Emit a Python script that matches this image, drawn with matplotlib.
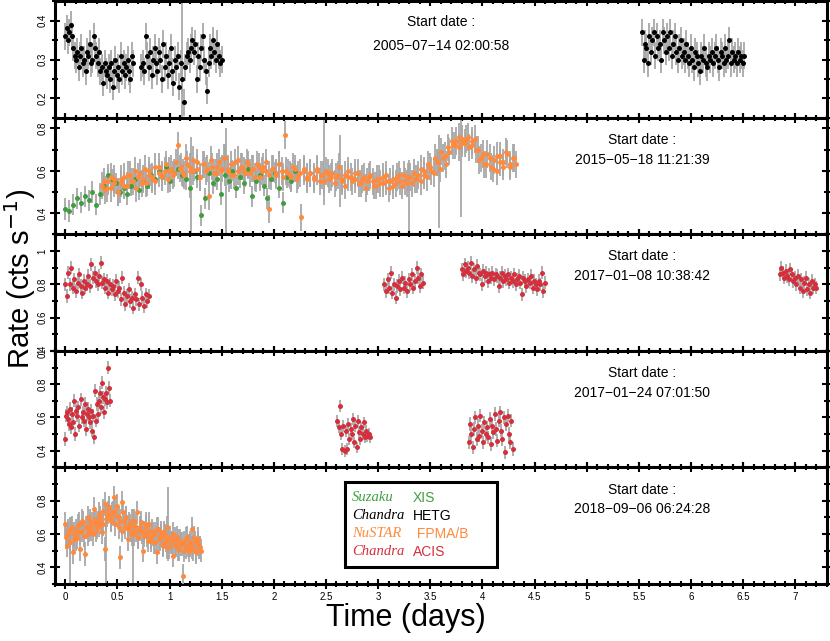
import numpy as np
import matplotlib.pyplot as plt
from matplotlib.patches import Rectangle
from matplotlib.ticker import MultipleLocator

plt.rcParams['font.family'] = ['Liberation Sans', 'DejaVu Sans']

# colores
verde = '#3f9f3f'
naranja = '#ff8a3d'
rojo = '#d42f3c'
negro = 'black'
gris = '#a8a8a8'

# --- Panel 1 : Chandra HETG (2005) ---
hetg_a_x = (0.0, 0.65)
hetg_a = [0.36, 0.38, 0.35, 0.37, 0.39, 0.36, 0.33, 0.31, 0.30, 0.32, 0.28, 0.31, 0.33, 0.29,
          0.30, 0.27, 0.32, 0.31, 0.34, 0.29, 0.30, 0.36, 0.33, 0.31, 0.29, 0.32, 0.27, 0.28,
          0.24, 0.29, 0.27, 0.26, 0.28, 0.25, 0.29, 0.23, 0.27, 0.30, 0.26, 0.28, 0.25, 0.31,
          0.27, 0.29, 0.26, 0.28, 0.30, 0.27, 0.25, 0.31, 0.29]
hetg_b_x = (0.73, 1.50)
hetg_b = [0.28, 0.29, 0.27, 0.36, 0.31, 0.28, 0.32, 0.26, 0.30, 0.33, 0.29, 0.27, 0.32, 0.30,
          0.25, 0.34, 0.28, 0.31, 0.26, 0.29, 0.33, 0.27, 0.24, 0.30, 0.28, 0.31, 0.23, 0.29,
          0.25, 0.19, 0.28, 0.31, 0.32, 0.30, 0.33, 0.35, 0.32, 0.34, 0.25, 0.31, 0.28, 0.33,
          0.36, 0.30, 0.27, 0.22, 0.29, 0.33, 0.31, 0.35, 0.32, 0.30, 0.34, 0.31, 0.29, 0.30]
hetg_c_x = (5.53, 6.51)
hetg_c = [0.37, 0.30, 0.34, 0.33, 0.29, 0.36, 0.32, 0.35, 0.37, 0.31, 0.36, 0.33, 0.34, 0.30,
          0.37, 0.35, 0.32, 0.36, 0.33, 0.37, 0.31, 0.34, 0.36, 0.32, 0.30, 0.33, 0.35, 0.31,
          0.32, 0.30, 0.34, 0.31, 0.29, 0.33, 0.30, 0.28, 0.32, 0.31, 0.29, 0.27, 0.31, 0.30,
          0.33, 0.29, 0.28, 0.31, 0.30, 0.32, 0.29, 0.31, 0.33, 0.30, 0.28, 0.32, 0.31, 0.29,
          0.33, 0.30, 0.31, 0.35, 0.29, 0.32, 0.30, 0.31, 0.29, 0.32, 0.30, 0.31, 0.29, 0.31]
# bins con error grande (tiempo, tasa, error)
hetg_largo_t = [1.12]
hetg_largo_r = [0.19]
hetg_largo_e = [0.27]

# --- Panel 2 : Suzaku XIS + NuSTAR FPMA/FPMB (2015) ---
xis_x = (0.0, 2.2)
xis = [0.42, 0.41, 0.44, 0.47, 0.45, 0.48, 0.46, 0.50, 0.44, 0.49, 0.53, 0.58, 0.56, 0.54,
       0.50, 0.52, 0.49, 0.53, 0.56, 0.51, 0.55, 0.53, 0.58, 0.56, 0.60, 0.57, 0.62, 0.55,
       0.59, 0.61, 0.58, 0.56, 0.52, 0.60, 0.57, 0.39, 0.47, 0.59, 0.54, 0.56, 0.49, 0.58,
       0.55, 0.60, 0.52, 0.57, 0.54, 0.61, 0.48, 0.55, 0.58, 0.53, 0.47, 0.56, 0.59, 0.52,
       0.45, 0.57, 0.55, 0.60]
fpma15_x = (0.35, 4.32)
fpma15 = [0.53, 0.51, 0.55, 0.52, 0.56, 0.50, 0.54, 0.57, 0.53, 0.58, 0.55, 0.52, 0.59, 0.56,
          0.54, 0.60, 0.57, 0.55, 0.62, 0.58, 0.60, 0.56, 0.61, 0.59, 0.72, 0.62, 0.58, 0.63,
          0.60, 0.65, 0.61, 0.57, 0.63, 0.60, 0.48, 0.62, 0.59, 0.64, 0.61, 0.66, 0.60, 0.63,
          0.58, 0.65, 0.62, 0.60, 0.64, 0.59, 0.61, 0.63, 0.57, 0.62, 0.60, 0.42, 0.61, 0.58,
          0.63, 0.60, 0.77, 0.59, 0.57, 0.61, 0.58, 0.38, 0.60, 0.56, 0.59, 0.57, 0.61, 0.55,
          0.58, 0.60, 0.56, 0.59, 0.57, 0.62, 0.55, 0.58, 0.60, 0.57, 0.56, 0.59, 0.54, 0.57,
          0.55, 0.58, 0.53, 0.56, 0.54, 0.57, 0.55, 0.52, 0.56, 0.54, 0.58, 0.53, 0.55, 0.57,
          0.54, 0.56, 0.58, 0.55, 0.60, 0.57, 0.62, 0.59, 0.64, 0.61, 0.66, 0.63, 0.69, 0.72,
          0.74, 0.71, 0.75, 0.73, 0.76, 0.72, 0.75, 0.70, 0.66, 0.63, 0.68, 0.62, 0.65, 0.60,
          0.67, 0.64, 0.69, 0.62, 0.66, 0.63]
fpmb15_x = (0.37, 4.30)
fpmb15 = [0.55, 0.52, 0.57, 0.54, 0.50, 0.56, 0.53, 0.58, 0.55, 0.60, 0.57, 0.54, 0.61, 0.58,
          0.56, 0.62, 0.59, 0.57, 0.63, 0.60, 0.58, 0.64, 0.61, 0.59, 0.66, 0.62, 0.60, 0.64,
          0.57, 0.63, 0.61, 0.65, 0.59, 0.62, 0.60, 0.66, 0.61, 0.58, 0.64, 0.60, 0.62, 0.59,
          0.63, 0.61, 0.57, 0.62, 0.60, 0.64, 0.58, 0.61, 0.59, 0.63, 0.57, 0.60, 0.58, 0.62,
          0.56, 0.59, 0.61, 0.57, 0.59, 0.56, 0.60, 0.58, 0.55, 0.59, 0.57, 0.54, 0.58, 0.56,
          0.53, 0.57, 0.55, 0.59, 0.54, 0.56, 0.52, 0.57, 0.55, 0.53, 0.56, 0.54, 0.58, 0.55,
          0.53, 0.57, 0.55, 0.58, 0.54, 0.57, 0.59, 0.56, 0.61, 0.58, 0.63, 0.60, 0.66, 0.64,
          0.69, 0.67, 0.71, 0.74, 0.72, 0.76, 0.73, 0.75, 0.71, 0.74, 0.70, 0.65, 0.68, 0.63,
          0.66, 0.61, 0.67, 0.64, 0.62, 0.68, 0.63, 0.66]
nus15_largo_t = [1.21, 1.54, 2.48, 2.63, 3.30, 3.58, 3.79]
nus15_largo_r = [0.52, 0.55, 0.64, 0.60, 0.48, 0.55, 0.62]
nus15_largo_e = [0.24, 0.25, 0.20, 0.17, 0.17, 0.22, 0.24]

# --- Panel 3 : Chandra ACIS (2017-01-08) ---
acis1_a_x = (0.0, 0.8)
acis1_a = [0.80, 0.73, 0.87, 0.80, 0.90, 0.78, 0.83, 0.76, 0.81, 0.86, 0.79, 0.75, 0.82, 0.78,
           0.80, 0.85, 0.79, 0.92, 0.84, 0.87, 0.82, 0.80, 0.85, 0.93, 0.81, 0.83, 0.78, 0.82,
           0.75, 0.80, 0.77, 0.79, 0.74, 0.82, 0.76, 0.78, 0.71, 0.84, 0.75, 0.68, 0.73, 0.77,
           0.70, 0.72, 0.66, 0.74, 0.71, 0.84, 0.68, 0.80, 0.72, 0.67, 0.74, 0.70, 0.73]
acis1_b_x = (3.06, 3.43)
acis1_b = [0.80, 0.76, 0.83, 0.78, 0.87, 0.75, 0.80, 0.72, 0.79, 0.82, 0.77, 0.84, 0.78, 0.81,
           0.76, 0.83, 0.80, 0.86, 0.78, 0.82, 0.90, 0.84, 0.79, 0.86, 0.81]
acis1_c_x = (3.80, 4.60)
acis1_c = [0.89, 0.86, 0.92, 0.88, 0.90, 0.87, 0.93, 0.85, 0.89, 0.84, 0.91, 0.87, 0.86, 0.80,
           0.88, 0.85, 0.87, 0.82, 0.86, 0.84, 0.87, 0.83, 0.86, 0.85, 0.79, 0.84, 0.87, 0.82,
           0.85, 0.83, 0.86, 0.81, 0.84, 0.82, 0.86, 0.80, 0.83, 0.85, 0.81, 0.74, 0.84, 0.82,
           0.79, 0.83, 0.81, 0.85, 0.78, 0.82, 0.80, 0.77, 0.82, 0.80, 0.87, 0.76, 0.81]
acis1_d_x = (6.85, 7.20)
acis1_d = [0.86, 0.90, 0.87, 0.84, 0.88, 0.85, 0.83, 0.89, 0.86, 0.82, 0.84, 0.80, 0.85, 0.78,
           0.83, 0.76, 0.81, 0.84, 0.77, 0.80, 0.75, 0.82, 0.78, 0.80, 0.78]

# --- Panel 4 : Chandra ACIS (2017-01-24) ---
acis2_a_x = (0.0, 0.43)
acis2_a = [0.47, 0.61, 0.63, 0.59, 0.56, 0.65, 0.54, 0.62, 0.57, 0.70, 0.50, 0.64, 0.61, 0.66,
           0.55, 0.71, 0.60, 0.63, 0.58, 0.68, 0.53, 0.62, 0.65, 0.60, 0.57, 0.64, 0.52, 0.61,
           0.48, 0.76, 0.58, 0.68, 0.62, 0.70, 0.75, 0.66, 0.81, 0.72, 0.63, 0.71, 0.75, 0.69,
           0.90, 0.78, 0.70]
acis2_b_x = (2.61, 2.92)
acis2_b = [0.58, 0.54, 0.67, 0.50, 0.41, 0.55, 0.40, 0.52, 0.41, 0.56, 0.47, 0.53, 0.50, 0.59,
           0.45, 0.55, 0.42, 0.58, 0.51, 0.47, 0.54, 0.50, 0.57, 0.48, 0.52, 0.49, 0.50, 0.48]
acis2_c_x = (3.87, 4.29)
acis2_c = [0.45, 0.56, 0.50, 0.42, 0.53, 0.60, 0.47, 0.55, 0.49, 0.61, 0.52, 0.45, 0.57, 0.50,
           0.54, 0.48, 0.59, 0.44, 0.55, 0.51, 0.62, 0.53, 0.46, 0.58, 0.63, 0.52, 0.47, 0.60,
           0.39, 0.56, 0.61, 0.50, 0.45, 0.58, 0.41]

# --- Panel 5 : NuSTAR FPMA/FPMB (2018) ---
fpma18_x = (0.0, 1.30)
fpma18 = [0.66, 0.53, 0.60, 0.55, 0.63, 0.49, 0.57, 0.62, 0.58, 0.66, 0.51, 0.62, 0.67, 0.48,
          0.64, 0.60, 0.68, 0.63, 0.66, 0.75, 0.62, 0.67, 0.65, 0.70, 0.61, 0.66, 0.51, 0.69,
          0.73, 0.76, 0.68, 0.72, 0.82, 0.74, 0.77, 0.70, 0.46, 0.79, 0.73, 0.64, 0.70, 0.57,
          0.66, 0.62, 0.68, 0.60, 0.65, 0.73, 0.58, 0.63, 0.67, 0.50, 0.61, 0.64, 0.59, 0.66,
          0.56, 0.62, 0.55, 0.60, 0.49, 0.63, 0.57, 0.59, 0.53, 0.61, 0.56, 0.64, 0.52, 0.58,
          0.55, 0.47, 0.57, 0.53, 0.56, 0.51, 0.54, 0.35, 0.55, 0.52, 0.58, 0.50, 0.53, 0.63,
          0.51, 0.55, 0.49, 0.57, 0.52, 0.50]
fpmb18_x = (0.01, 1.29)
fpmb18 = [0.58, 0.62, 0.55, 0.64, 0.60, 0.57, 0.65, 0.61, 0.68, 0.59, 0.64, 0.70, 0.62, 0.66,
          0.60, 0.69, 0.64, 0.72, 0.67, 0.74, 0.78, 0.71, 0.76, 0.69, 0.73, 0.66, 0.71, 0.64,
          0.68, 0.62, 0.67, 0.70, 0.63, 0.65, 0.60, 0.68, 0.62, 0.58, 0.64, 0.61, 0.59, 0.66,
          0.56, 0.62, 0.58, 0.60, 0.55, 0.63, 0.57, 0.61, 0.54, 0.59, 0.52, 0.57, 0.55, 0.60,
          0.53, 0.58, 0.51, 0.56, 0.54, 0.50, 0.57, 0.53, 0.55, 0.52, 0.58, 0.50, 0.54, 0.52]
nus18_largo_t = [0.05, 0.39, 0.65, 0.99]
nus18_largo_r = [0.50, 0.50, 0.50, 0.66]
nus18_largo_e = [0.20, 0.20, 0.25, 0.22]

fechas = ['2005\u221207\u221214 02:00:58', '2015\u221205\u221218 11:21:39',
          '2017\u221201\u221208 10:38:42', '2017\u221201\u221224 07:01:50',
          '2018\u221209\u221206 06:24:28']
limites_y = [(0.15, 0.45), (0.3, 0.85), (0.4, 1.1), (0.3, 1.0), (0.3, 1.0)]
ticks_y = [[0.2, 0.3, 0.4], [0.4, 0.6, 0.8], [0.4, 0.6, 0.8, 1.0], [0.4, 0.6, 0.8, 1.0],
           [0.4, 0.6, 0.8]]
minor_y = [0.05, 0.1, 0.1, 0.1, 0.1]

# (panel, rango, valores, error, color)
segmentos = [
    (0, hetg_a_x, hetg_a, 0.035, negro),
    (0, hetg_b_x, hetg_b, 0.035, negro),
    (0, hetg_c_x, hetg_c, 0.035, negro),
    (1, xis_x, xis, 0.05, verde),
    (1, fpma15_x, fpma15, 0.065, naranja),
    (1, fpmb15_x, fpmb15, 0.065, naranja),
    (2, acis1_a_x, acis1_a, 0.04, rojo),
    (2, acis1_b_x, acis1_b, 0.04, rojo),
    (2, acis1_c_x, acis1_c, 0.04, rojo),
    (2, acis1_d_x, acis1_d, 0.04, rojo),
    (3, acis2_a_x, acis2_a, 0.04, rojo),
    (3, acis2_b_x, acis2_b, 0.035, rojo),
    (3, acis2_c_x, acis2_c, 0.04, rojo),
    (4, fpma18_x, fpma18, 0.07, naranja),
    (4, fpmb18_x, fpmb18, 0.07, naranja),
]
largos = [
    (0, hetg_largo_t, hetg_largo_r, hetg_largo_e),
    (1, nus15_largo_t, nus15_largo_r, nus15_largo_e),
    (4, nus18_largo_t, nus18_largo_r, nus18_largo_e),
]

fig, axs = plt.subplots(5, 1, sharex=True, figsize=(8.3, 6.41), dpi=100)
fig.subplots_adjust(left=0.066, right=0.996, top=0.998, bottom=0.089, hspace=0)

for panel, t, r, e in largos:
    axs[panel].errorbar(t, r, yerr=e, fmt='none', ecolor=gris, elinewidth=1.3, zorder=2)

for panel, rango, valores, err, color in segmentos:
    ax = axs[panel]
    x = np.linspace(rango[0], rango[1], len(valores))
    ax.errorbar(x, valores, yerr=err, fmt='o', ms=3.6, mfc=color, mec=color, mew=0,
                ecolor=gris, elinewidth=1.3, capsize=0, zorder=3)

for i, ax in enumerate(axs):
    ax.set_xlim(-0.1, 7.3)
    ax.set_ylim(*limites_y[i])
    ax.set_yticks(ticks_y[i])
    ax.set_yticklabels([('%g' % t) for t in ticks_y[i]], rotation=90, va='center')
    ax.yaxis.set_minor_locator(MultipleLocator(minor_y[i]))
    ax.xaxis.set_major_locator(MultipleLocator(0.5))
    ax.xaxis.set_minor_locator(MultipleLocator(0.1))
    ax.tick_params(which='both', direction='inout', top=True, right=True,
                   labelsize=7, width=1.5, pad=2)
    ax.tick_params(which='major', length=7)
    ax.tick_params(which='minor', length=4)
    for s in ax.spines.values():
        s.set_linewidth(2.2)
    if i == 0:
        xt = 3.6
        y1, y2 = 0.82, 0.62
    else:
        xt = 5.53
        y1, y2 = 0.81, 0.64
    ax.text(xt, y1, 'Start date :', transform=ax.get_xaxis_transform(),
            ha='center', va='center', fontsize=10)
    ax.text(xt, y2, fechas[i], transform=ax.get_xaxis_transform(),
            ha='center', va='center', fontsize=10)

axs[-1].set_xticklabels(['%g' % t for t in axs[-1].get_xticks()])
axs[-1].set_xlabel('Time (days)', fontsize=22)
axs[-1].xaxis.set_label_coords(0.455, -0.165)
fig.text(0.024, 0.565, 'Rate (cts s$^{-1}$)', rotation=90, ha='center', va='center',
         fontsize=21)

# leyenda manual
ax = axs[-1]
ax.add_patch(Rectangle((0.376, 0.145), 0.197, 0.727, transform=ax.transAxes,
                       facecolor='white', edgecolor='black', lw=2.2, zorder=5))
leyenda = [('Suzaku', 'XIS', verde), ('Chandra', 'HETG', negro),
           ('NuSTAR', ' FPMA/B', naranja), ('Chandra', 'ACIS', rojo)]
for k, (mision, inst, color) in enumerate(leyenda):
    yy = 0.74 - k * 0.154
    ax.text(0.385, yy, mision, transform=ax.transAxes, color=color, fontsize=10.5,
            family=['Liberation Serif', 'DejaVu Serif'], style='italic', va='center', zorder=6)
    ax.text(0.464, yy, inst, transform=ax.transAxes, color=color, fontsize=10,
            va='center', zorder=6)

fig.savefig('out.png', dpi=100)
